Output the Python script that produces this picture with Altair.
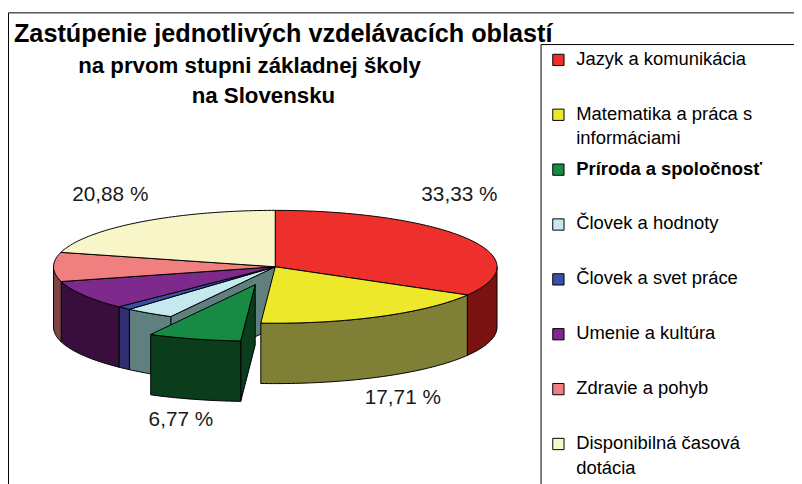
import math
import numpy as np
import pandas as pd
import altair as alt

# ---------------- data ----------------
categories = [
    "Jazyk a komunikácia",
    "Matematika a práca s informáciami",
    "Príroda a spoločnosť",
    "Človek a hodnoty",
    "Človek a svet práce",
    "Umenie a kultúra",
    "Zdravie a pohyb",
    "Disponibilná časová dotácia",
]
legend_text = [
    "Jazyk a komunikácia",
    "Matematika a práca s\ninformáciami",
    "Príroda a spoločnosť",
    "Človek a hodnoty",
    "Človek a svet práce",
    "Umenie a kultúra",
    "Zdravie a pohyb",
    "Disponibilná časová\ndotácia",
]
legend_bold = [False, False, True, False, False, False, False, False]
shares = [33.33, 17.71, 6.77, 3.61, 1.04, 8.33, 8.33, 20.88]
show_label = [True, True, True, False, False, False, False, True]
exploded = [False, False, True, False, False, False, False, False]
top_colors = ["#EE302C", "#EEE82A", "#178A44", "#C6E9F0", "#3A50A8",
              "#7E2A8C", "#F08080", "#F8F6C8"]
side_colors = ["#7A1212", "#7F7F36", "#0B3D1C", "#608080", "#2E2E70",
               "#3A0E3C", "#7F4444", "#7C7B64"]
title_lines = ["Zastúpenie jednotlivých vzdelávacích oblastí",
               "na prvom stupni základnej školy",
               "na Slovensku"]

# ---------------- layout ----------------
W, H = 794, 476
CX, CY = 270, 259          # pie centre (chart px)
RX, RY = 224, 57           # ellipse radii
DEPTH = 61                 # thickness
EXPLODE = 0.33


def pt(theta, r=1.0, off=(0.0, 0.0), dz=0.0):
    t = math.radians(theta)
    return (CX + off[0] + RX * r * math.sin(t), CY + off[1] - RY * r * math.cos(t) + dz)


def arc(t1, t2, off, dz=0.0):
    n = max(2, int(abs(t2 - t1)) + 2)
    return [pt(t, 1.0, off, dz) for t in np.linspace(t1, t2, n)]


rows = []
pid_counter = [0]


def add_poly(stage, color, pts):
    pid = pid_counter[0]
    pid_counter[0] += 1
    pts = list(pts) + [pts[0]]
    for i, (x, y) in enumerate(pts):
        rows.append({"pid": pid, "stage": stage, "color": color, "i": i, "x": x, "y": y})


total = sum(shares)
bounds = np.concatenate([[0.0], np.cumsum(shares) / total * 360.0])
offsets = []
for k in range(len(shares)):
    t1, t2 = bounds[k], bounds[k + 1]
    if exploded[k]:
        m = math.radians((t1 + t2) / 2)
        offsets.append((EXPLODE * RX * math.sin(m), -EXPLODE * RY * math.cos(m)))
    else:
        offsets.append((0.0, 0.0))


def radial_face(stage, k, phi):
    off = offsets[k]
    c = (CX + off[0], CY + off[1])
    r = pt(phi, 1.0, off)
    add_poly(stage, side_colors[k],
             [c, r, (r[0], r[1] + DEPTH), (c[0], c[1] + DEPTH)])


n = len(shares)
for k in range(n):
    t1, t2 = bounds[k], bounds[k + 1]
    off = offsets[k]
    stage = 2 if exploded[k] else 1
    # radial faces exposed by the exploded slice
    if exploded[k]:
        if math.sin(math.radians(t1)) < 0:
            radial_face(2, k, t1)
        if math.sin(math.radians(t2)) > 0:
            radial_face(2, k, t2)
    else:
        if exploded[(k - 1) % n] and math.sin(math.radians(t1)) < 0:
            radial_face(0, k, t1)
        if exploded[(k + 1) % n] and math.sin(math.radians(t2)) > 0:
            radial_face(0, k, t2)
    # rim (front half only)
    lo, hi = max(t1, 90.0), min(t2, 270.0)
    if lo < hi:
        top = arc(lo, hi, off)
        bot = arc(hi, lo, off, DEPTH)
        add_poly(stage, side_colors[k], top + bot)
    # top face
    c = (CX + off[0], CY + off[1])
    add_poly(stage + 0.5, top_colors[k], [c] + arc(t1, t2, off))

poly = pd.DataFrame(rows)

# data labels
lab_rows = []
for k in range(n):
    if not show_label[k]:
        continue
    t1, t2 = bounds[k], bounds[k + 1]
    m = (t1 + t2) / 2
    off = offsets[k]
    x = CX + off[0] + 1.22 * RX * math.sin(math.radians(m))
    x = min(max(x, CX - RX + 38), CX + RX - 38)
    if math.cos(math.radians(m)) >= 0:
        y = CY - RY - 15
    else:
        y = pt(m, 1.0, off)[1] + DEPTH + 21
    txt = f"{shares[k]:.2f}".replace(".", ",") + " %"
    lab_rows.append({"x": x, "y": y, "t": txt})
labels = pd.DataFrame(lab_rows)

leg = pd.DataFrame({"cat": categories, "txt": legend_text, "bold": legend_bold,
                    "color": top_colors})

xs = alt.Scale(domain=[0, W], range=[0, W])
ys = alt.Scale(domain=[0, H], range=[0, H])
X = lambda f: alt.X(f, scale=xs, axis=None)
Y = lambda f: alt.Y(f, scale=ys, axis=None)


def poly_layer(stage_lo, stage_hi):
    return alt.Chart(poly).transform_filter(
        f"datum.stage >= {stage_lo} && datum.stage <= {stage_hi}"
    ).mark_line(stroke="black", strokeWidth=1, strokeJoin="round").encode(
        x=X("x:Q"), y=Y("y:Q"), order="i:Q", detail="pid:N",
        fill=alt.Fill("color:N", scale=None),
    )


layers = [
    poly_layer(0, 0.5),
    poly_layer(1, 1),
    poly_layer(1.5, 1.5),
    poly_layer(2, 2),
    poly_layer(2.5, 2.5),
]

lab_layer = alt.Chart(labels).mark_text(
    font="Liberation Sans", fontSize=21, color="#1a1a1a", align="center", baseline="middle"
).encode(x=X("x:Q"), y=Y("y:Q"), text="t:N")

frame = alt.Chart(pd.DataFrame({"a": [0]})).mark_rect(
    fill="transparent", stroke="black", strokeWidth=1
).encode(x=alt.value(0.5), x2=alt.value(1000), y=alt.value(2.5), y2=alt.value(1000))

leg_box = alt.Chart(pd.DataFrame({"a": [0]})).mark_rect(
    fill="white", stroke="black", strokeWidth=1
).encode(x=alt.value(538.5), x2=alt.value(1000), y=alt.value(34.5), y2=alt.value(1000))

leg_y = alt.Y("cat:N", scale=alt.Scale(domain=categories, range=[50, 438], type="point", padding=0), axis=None)

leg_sq = alt.Chart(leg).mark_square(size=130, stroke="black", strokeWidth=1, opacity=1).encode(
    x=alt.value(556), y=leg_y, fill=alt.Fill("color:N", scale=None)
)
leg_common = dict(font="Liberation Sans", fontSize=18.6, align="left", baseline="top", dy=-10,
                  lineBreak="\n", lineHeight=25, color="black")
leg_txt = alt.Chart(leg).transform_filter("!datum.bold").mark_text(**leg_common).encode(
    x=alt.value(574), y=leg_y, text="txt:N")
leg_txt_b = alt.Chart(leg).transform_filter("datum.bold").mark_text(
    fontWeight="bold", **leg_common).encode(x=alt.value(574), y=leg_y, text="txt:N")

tdf = pd.DataFrame({"t": title_lines, "row": [0, 1, 2]})
t_y = alt.Y("row:O", scale=alt.Scale(domain=[0, 1, 2], range=[32, 94], type="point", padding=0), axis=None)
t_common = dict(font="Liberation Sans", fontWeight="bold", align="center",
                baseline="alphabetic", color="black")
title1 = alt.Chart(tdf).transform_filter("datum.row == 0").mark_text(fontSize=25.5, **t_common).encode(
    x=alt.value(278), y=t_y, text="t:N")
title2 = alt.Chart(tdf).transform_filter("datum.row == 1").mark_text(fontSize=22.5, **t_common).encode(
    x=alt.value(244), y=t_y, text="t:N")
title3 = alt.Chart(tdf).transform_filter("datum.row == 2").mark_text(fontSize=22.5, **t_common).encode(
    x=alt.value(258), y=t_y, text="t:N")

chart = alt.layer(
    frame, leg_box, *layers, lab_layer, leg_sq, leg_txt, leg_txt_b, title1, title2, title3
).resolve_scale(y="independent").properties(
    width=W, height=H, autosize=alt.AutoSizeParams(type="none"), padding=0
).configure_view(stroke=None)

chart.save("out.html", embed_options={"renderer": "svg", "actions": False})
